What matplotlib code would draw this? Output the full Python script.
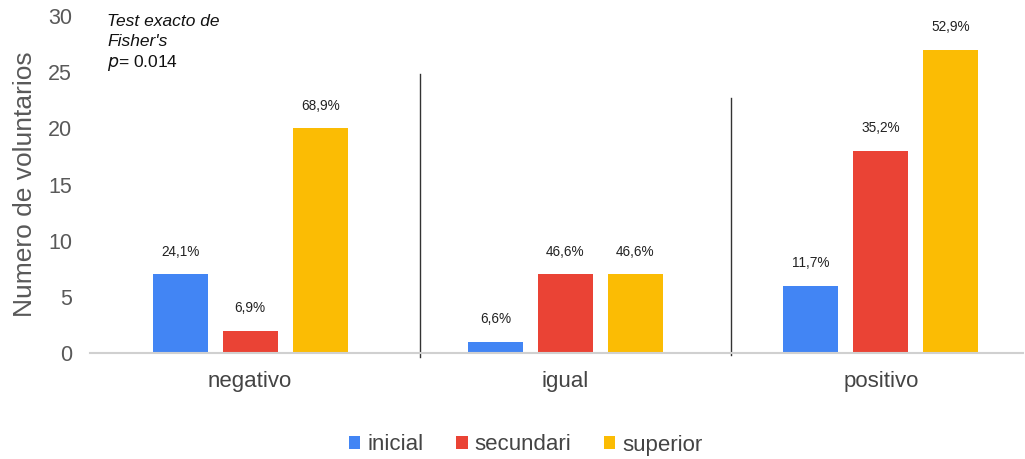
import numpy as np
import matplotlib
matplotlib.use("Agg")
import matplotlib.pyplot as plt

plt.rcParams['font.family'] = ['Liberation Sans', 'DejaVu Sans']

categorias = ["negativo", "igual", "positivo"]
series = ["inicial", "secundari", "superior"]
inicial = [7, 1, 6]
secundari = [2, 7, 18]
superior = [20, 7, 27]
etiquetas = [["24,1%", "6,6%", "11,7%"],
             ["6,9%", "46,6%", "35,2%"],
             ["68,9%", "46,6%", "52,9%"]]
colores = ["#4285F4", "#EA4335", "#FBBC04"]

fig = plt.figure(figsize=(10.25, 4.59), dpi=100)
ax = fig.add_axes([0.0878, 0.231, 0.91, 0.734])

x = np.arange(len(categorias))
w = 0.175
off = 0.222
valores = [inicial, secundari, superior]
for k, (nom, vals) in enumerate(zip(series, valores)):
    pos = x + (k - 1) * off
    ax.bar(pos, vals, w, color=colores[k], label=nom, zorder=2)
    for px, v, t in zip(pos, vals, etiquetas[k]):
        ax.text(px, v + 2.0, t, ha="center", va="center", fontsize=9.8, color="#222222")

# separadores
ax.plot([0.54, 0.54], [-0.4, 24.8], color="#333333", lw=1, clip_on=False)
ax.plot([1.524, 1.524], [-0.2, 22.7], color="#333333", lw=1, clip_on=False)

ax.set_xlim(-0.508, 2.45)
ax.set_ylim(0, 30)
ax.set_yticks(range(0, 31, 5))
ax.set_xticks(x)
ax.set_xticklabels(categorias)
ax.tick_params(axis="y", length=0, labelsize=15.5, labelcolor="#595959", pad=13)
ax.tick_params(axis="x", length=0, labelsize=16, labelcolor="#444444", pad=13)
for s in ["top", "right", "left"]:
    ax.spines[s].set_visible(False)
ax.spines["bottom"].set_color("#d0d0d0")
ax.spines["bottom"].set_linewidth(1.5)
ax.set_ylabel("Numero de voluntarios", fontsize=19, color="#595959", labelpad=8)

fig.text(107 / 1025, 1 - 22 / 459, "Test exacto de", fontsize=12.5, style="italic",
         va="center", ha="left", color="#111111")
fig.text(107 / 1025, 1 - 42 / 459, "Fisher's", fontsize=12.5, style="italic",
         va="center", ha="left", color="#111111")
fig.text(107 / 1025, 1 - 63 / 459, "$\\it{p}$= 0.014", fontsize=12.5,
         va="center", ha="left", color="#111111")

fig.legend(loc="center", bbox_to_anchor=(0.513, 1 - 445 / 459), ncol=3, frameon=False,
           fontsize=16, handlelength=0.5, handleheight=0.5, handletextpad=0.3,
           columnspacing=1.5, labelcolor="#444444")

fig.savefig("out.png", dpi=100)
